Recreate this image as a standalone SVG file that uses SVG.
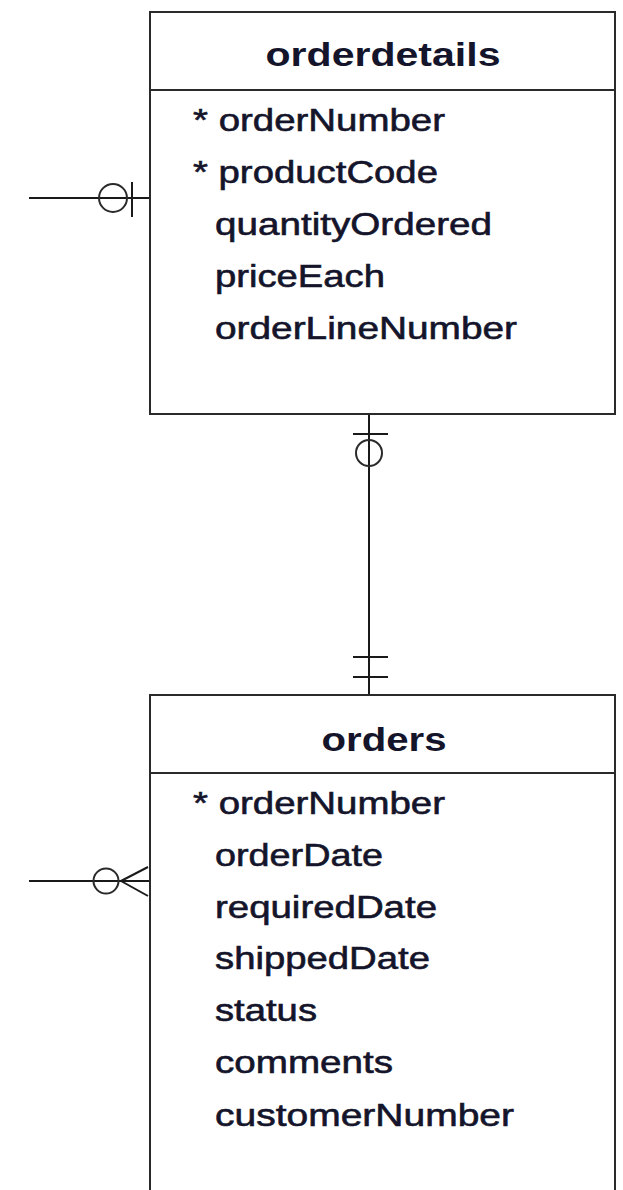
<svg xmlns="http://www.w3.org/2000/svg" width="623" height="1190" viewBox="0 0 623 1190">
  <style>
    .box { fill: #ffffff; stroke: #2a2a2a; stroke-width: 2; }
    .sep { stroke: #2a2a2a; stroke-width: 2; }
    .title { font-family: "Liberation Sans", Arial, sans-serif; font-weight: bold; font-size: 34px; fill: #14142a; text-anchor: middle; }
    .field { font-family: "Liberation Sans", Arial, sans-serif; font-size: 32px; fill: #14142a; stroke: #14142a; stroke-width: 0.6; }
    .conn line { stroke: #1a1a1a; stroke-width: 2; fill: none; }
    .conn circle { stroke: #2a2a2a; stroke-width: 2; fill: none; }
  </style>
  <rect width="623" height="1190" fill="#ffffff"/>

  <!-- connectors -->
  <g id="connectors" class="conn">
    <!-- into orderdetails from the left: zero-or-one -->
    <line x1="29" y1="198" x2="150" y2="198"/>
    <circle cx="113" cy="198" r="14"/>
    <line x1="132" y1="182" x2="132" y2="217"/>

    <!-- orderdetails to orders -->
    <line x1="369" y1="414" x2="369" y2="695"/>
    <line x1="353" y1="434" x2="388" y2="434"/>
    <circle cx="369" cy="453" r="13"/>
    <line x1="353" y1="657" x2="388" y2="657"/>
    <line x1="353" y1="677" x2="388" y2="677"/>

    <!-- into orders from the left: zero-or-many -->
    <line x1="29" y1="881" x2="150" y2="881"/>
    <circle cx="106" cy="881" r="12.5"/>
    <line x1="121" y1="881" x2="148" y2="867"/>
    <line x1="121" y1="881" x2="148" y2="896"/>
  </g>

  <!-- orderdetails table -->
  <g id="orderdetails">
    <rect class="box" x="150" y="12" width="465" height="402"/>
    <line class="sep" x1="150" y1="90" x2="615" y2="90"/>
    <text class="title" x="383" y="66" textLength="235" lengthAdjust="spacingAndGlyphs">orderdetails</text>
    <text class="field" x="193" y="131" textLength="252" lengthAdjust="spacingAndGlyphs">* orderNumber</text>
    <text class="field" x="193" y="183" textLength="245" lengthAdjust="spacingAndGlyphs">* productCode</text>
    <text class="field" x="215" y="235" textLength="277" lengthAdjust="spacingAndGlyphs">quantityOrdered</text>
    <text class="field" x="215" y="287" textLength="170" lengthAdjust="spacingAndGlyphs">priceEach</text>
    <text class="field" x="215" y="339" textLength="302" lengthAdjust="spacingAndGlyphs">orderLineNumber</text>
  </g>

  <!-- orders table -->
  <g id="orders">
    <rect class="box" x="150" y="695" width="465" height="520"/>
    <line class="sep" x1="150" y1="773" x2="615" y2="773"/>
    <text class="title" x="384" y="751" textLength="125" lengthAdjust="spacingAndGlyphs">orders</text>
    <text class="field" x="193" y="814" textLength="252" lengthAdjust="spacingAndGlyphs">* orderNumber</text>
    <text class="field" x="215" y="866" textLength="168" lengthAdjust="spacingAndGlyphs">orderDate</text>
    <text class="field" x="215" y="918" textLength="222" lengthAdjust="spacingAndGlyphs">requiredDate</text>
    <text class="field" x="215" y="969" textLength="215" lengthAdjust="spacingAndGlyphs">shippedDate</text>
    <text class="field" x="215" y="1021" textLength="102" lengthAdjust="spacingAndGlyphs">status</text>
    <text class="field" x="215" y="1073" textLength="178" lengthAdjust="spacingAndGlyphs">comments</text>
    <text class="field" x="215" y="1126" textLength="299" lengthAdjust="spacingAndGlyphs">customerNumber</text>
  </g>
</svg>
